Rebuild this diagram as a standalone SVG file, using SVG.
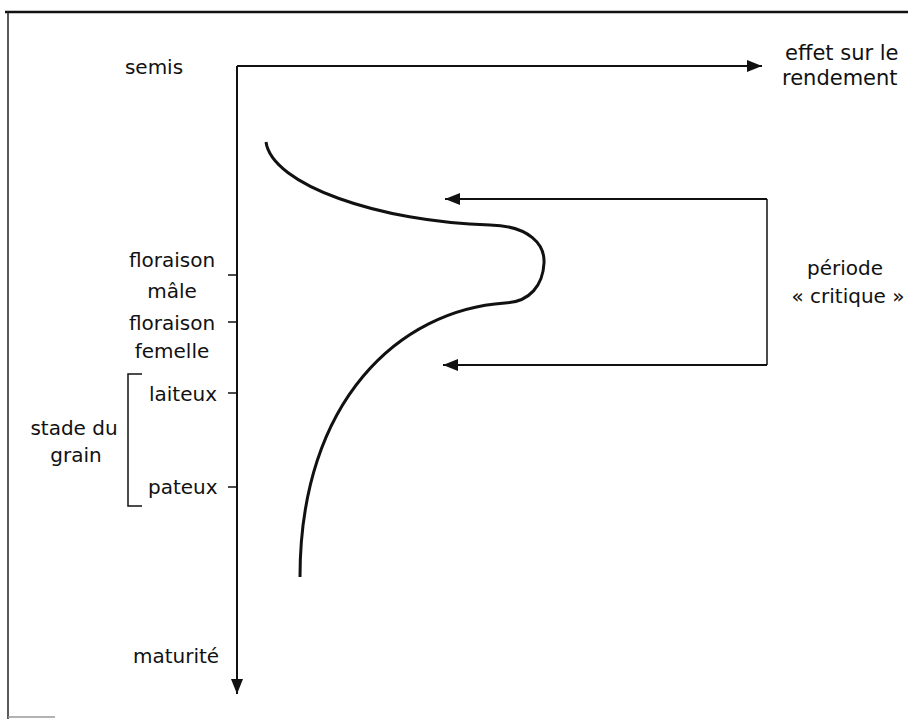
<svg xmlns="http://www.w3.org/2000/svg" width="908" height="719" viewBox="0 0 908 719">
<style>
text{font-family:"DejaVu Sans","Liberation Sans",sans-serif;font-size:20px;fill:#111;}
.m{text-anchor:middle}
.big{font-size:21px}
.ln{stroke:#111;stroke-width:2;fill:none}
.tk{stroke:#111;stroke-width:1.5;fill:none}
.cv{stroke:#111;stroke-width:3;fill:none;stroke-linecap:butt}
</style>
<defs>
<marker id="ah" markerUnits="userSpaceOnUse" markerWidth="16" markerHeight="12" refX="15" refY="6" orient="auto">
<path d="M0,0 L15,6 L0,12 z" fill="#111"/>
</marker>
</defs>
<rect width="908" height="719" fill="#fff"/>
<g id="frame">
<line x1="5" y1="12" x2="908" y2="12" stroke="#111" stroke-width="2.5"/>
<line x1="8" y1="11" x2="8" y2="719" stroke="#222" stroke-width="1.5"/>
<line x1="8" y1="717" x2="55" y2="717" stroke="#999" stroke-width="1.5"/>
</g>
<g id="connectors">
<path class="ln" d="M237,66 H762" marker-end="url(#ah)"/>
<path class="ln" d="M237,66 V694" marker-end="url(#ah)"/>
<path class="tk" d="M767,199 V365"/>
<path class="ln" d="M767,199 H445" marker-end="url(#ah)"/>
<path class="ln" d="M767,365 H443" marker-end="url(#ah)"/>
<path class="tk" d="M228,275 H237 M228,322 H237 M228,393 H237 M228,487 H237"/>
<path class="tk" d="M142,374 H128 V506 H142"/>
</g>
<g id="curve">
<path class="cv" d="M266,142 C272,185 380,222 490,225 C530,226 545,245 544,263 C543,285 530,302 505,303 C400,310 300,400 300,577"/>
</g>
<g id="semis"><text x="154" y="74" class="m">semis</text></g>
<g id="effet"><text x="785" y="60" class="big">effet sur le</text><text x="782" y="85" class="big">rendement</text></g>
<g id="floraison-male"><text x="172" y="267" class="m">floraison</text><text x="172" y="298" class="m">mâle</text></g>
<g id="floraison-femelle"><text x="172" y="330" class="m">floraison</text><text x="172" y="358" class="m">femelle</text></g>
<g id="laiteux"><text x="149" y="401">laiteux</text></g>
<g id="pateux"><text x="148" y="494">pateux</text></g>
<g id="stade"><text x="74" y="435" class="m">stade du</text><text x="76" y="462" class="m">grain</text></g>
<g id="periode"><text x="845" y="275" class="m">période</text><text x="848" y="303" class="m">« critique »</text></g>
<g id="maturite"><text x="176" y="663" class="m">maturité</text></g>
</svg>
